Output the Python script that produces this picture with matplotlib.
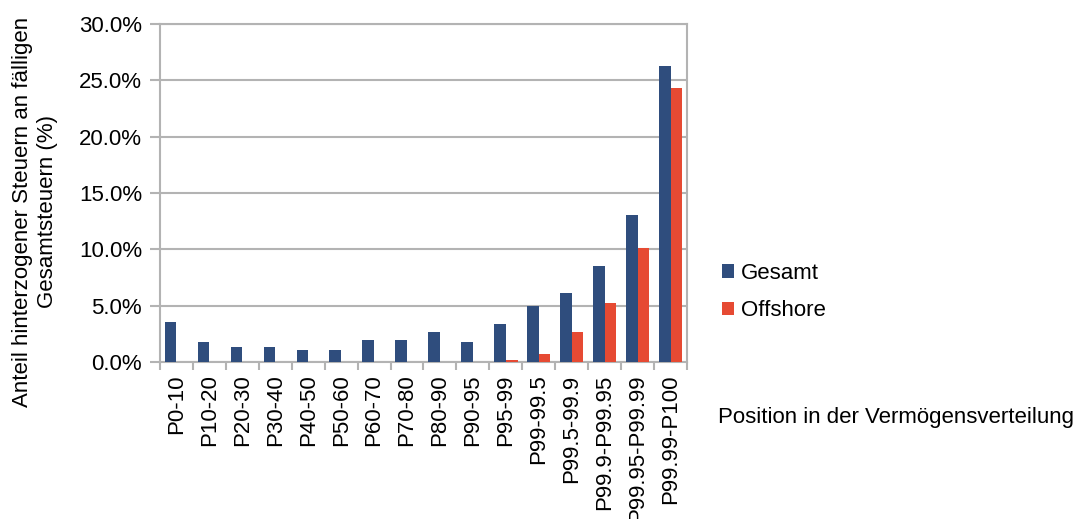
import numpy as np
import matplotlib.pyplot as plt
from matplotlib.ticker import PercentFormatter

plt.rcParams['font.family'] = ['Liberation Sans', 'DejaVu Sans']

kategorien = ['P0-10', 'P10-20', 'P20-30', 'P30-40', 'P40-50', 'P50-60',
              'P60-70', 'P70-80', 'P80-90', 'P90-95', 'P95-99', 'P99-99.5',
              'P99.5-99.9', 'P99.9-P99.95', 'P99.95-P99.99', 'P99.99-P100']
gesamt = [3.56, 1.75, 1.37, 1.37, 1.04, 1.1, 1.97, 1.97, 2.65, 1.8,
          3.4, 4.98, 6.15, 8.55, 13.05, 26.25]
offshore = [0, 0, 0, 0, 0, 0, 0, 0, 0, 0,
            0.18, 0.72, 2.68, 5.27, 10.12, 24.35]

grau = '#b3b3b3'
fs = 16

fig = plt.figure(figsize=(10.75, 5.19), dpi=100)
ax = fig.add_axes([160 / 1075, 1 - 362 / 519, 527 / 1075, 338 / 519])

x = np.arange(len(kategorien))
b = 0.355
ax.bar(x - b / 2, gesamt, b, color='#2f4d7d', label='Gesamt', zorder=3)
ax.bar(x + b / 2, offshore, b, color='#e64a33', label='Offshore', zorder=3)

ax.set_xlim(-0.5, len(kategorien) - 0.5)
ax.set_ylim(0, 30)
ax.set_yticks(np.arange(0, 31, 5))
ax.yaxis.set_major_formatter(PercentFormatter(decimals=1))
ax.yaxis.grid(True, color=grau, linewidth=1.5, zorder=0)

ax.set_xticks(x)
ax.set_xticklabels(kategorien, rotation=90, fontsize=fs)
ax.set_xticks(np.arange(-0.5, len(kategorien)), minor=True)
ax.tick_params(axis='x', which='major', length=0, pad=9)
ax.tick_params(axis='x', which='minor', length=6, width=1.5, color=grau)
ax.tick_params(axis='y', labelsize=fs, length=7, width=1.5, color=grau, pad=6)

for s in ax.spines.values():
    s.set_color(grau)
    s.set_linewidth(1.5)

fig.text(35 / 1075, 1 - 212 / 519,
         'Anteil hinterzogener Steuern an fälligen\nGesamtsteuern (%)',
         rotation=90, ha='center', va='center', multialignment='center',
         fontsize=fs)
fig.text(718 / 1075, 1 - 418 / 519, 'Position in der Vermögensverteilung',
         ha='left', va='center', fontsize=fs)

fig.legend(loc='center left', bbox_to_anchor=(702 / 1075, 1 - 292 / 519),
           frameon=False, fontsize=fs, handlelength=0.55, handleheight=0.55,
           handletextpad=0.3, labelspacing=0.75)

fig.savefig('out.png', dpi=100)
